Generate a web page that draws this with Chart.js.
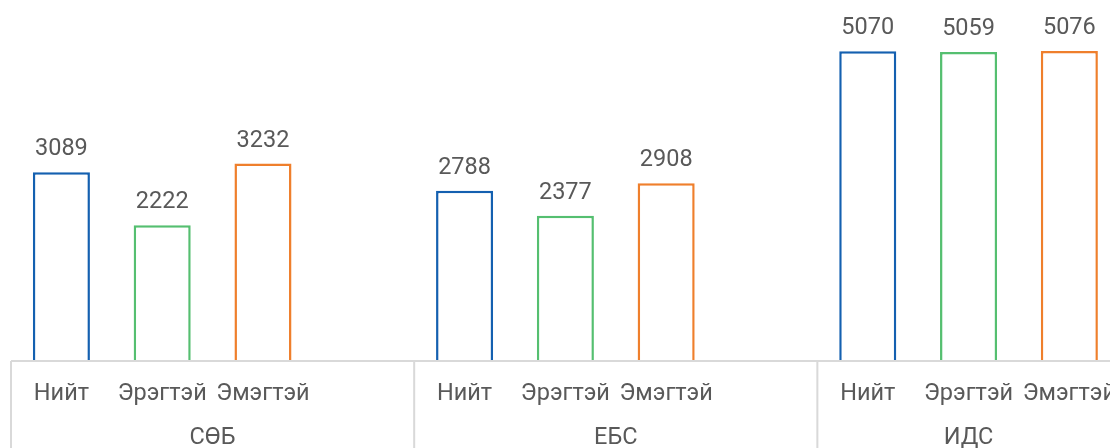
<!DOCTYPE html>
<html>
<head>
<meta charset="utf-8">
<script src="https://cdn.jsdelivr.net/npm/chart.js@4.4.1/dist/chart.umd.min.js"></script>
<style>
  html, body { margin: 0; padding: 0; background: #fff; overflow: hidden; }
  #wrap { width: 1110px; height: 448px; overflow: hidden; position: relative; }
  #chart { position: absolute; left: 0; top: 0; }
</style>
</head>
<body>
<div id="wrap"><canvas id="chart" width="1127" height="448"></canvas></div>
<script>
// groups on the outer axis, series on the inner one
const groups = ['СӨБ', 'ЕБС', 'ИДС'];
const series = ['Нийт', 'Эрэгтэй', 'Эмэгтэй'];
const totalValues  = [3089, 2788, 5070];
const maleValues   = [2222, 2377, 5059];
const femaleValues = [3232, 2908, 5076];
const seriesColors = ['#1460b0', '#55bf70', '#ef7f2c'];

const TEXT = '#595959';
const AXIS = '#d9d9d9';
const FONT = 'Roboto, "Noto Sans", sans-serif';

// each group gets series slots plus an empty gap slot (not after the last one)
const slotLabels = [];
const slotValues = [];
const slotColors = [];
const groupRanges = [];
const seriesValues = [totalValues, maleValues, femaleValues];
groups.forEach((g, gi) => {
    const start = slotLabels.length;
    series.forEach((s, si) => {
        slotLabels.push(s);
        slotValues.push(seriesValues[si][gi]);
        slotColors.push(seriesColors[si]);
    });
    if (gi < groups.length - 1) {
        slotLabels.push('');
        slotValues.push(null);
        slotColors.push('transparent');
    }
    groupRanges.push([start, slotLabels.length - 1]);
});

// value labels above bars, axis line, group dividers and group names
const decorPlugin = {
    id: 'decor',
    afterDraw(chart) {
        const { ctx, chartArea } = chart;
        const meta = chart.getDatasetMeta(0);
        ctx.save();
        ctx.fillStyle = TEXT;
        ctx.font = '23.5px ' + FONT;
        ctx.textAlign = 'center';
        ctx.textBaseline = 'bottom';
        meta.data.forEach((bar, i) => {
            const v = slotValues[i];
            if (v == null) return;
            ctx.fillText(String(v), bar.x, bar.y - 11);
        });

        const x = chart.scales.x;
        const half = (x.getPixelForValue(1) - x.getPixelForValue(0)) / 2;
        ctx.strokeStyle = AXIS;
        ctx.lineWidth = 2;
        ctx.beginPath();
        ctx.moveTo(chartArea.left, chartArea.bottom);
        ctx.lineTo(chartArea.right, chartArea.bottom);
        ctx.textBaseline = 'middle';
        groupRanges.forEach(([a, b], gi) => {
            const left = x.getPixelForValue(a) - half;
            const right = x.getPixelForValue(b) + half;
            ctx.moveTo(left, chartArea.bottom);
            ctx.lineTo(left, chart.height);
            ctx.fillText(groups[gi], (left + right) / 2, chartArea.bottom + 77);
        });
        ctx.stroke();
        ctx.restore();
    }
};

new Chart(document.getElementById('chart').getContext('2d'), {
    type: 'bar',
    data: {
        labels: slotLabels,
        datasets: [{
            data: slotValues,
            backgroundColor: '#ffffff',
            borderColor: slotColors,
            borderWidth: 2.5,
            borderSkipped: 'bottom',
            categoryPercentage: 1,
            barPercentage: 0.566
        }]
    },
    options: {
        responsive: false,
        animation: false,
        layout: { padding: { left: 11, right: 0, top: 0, bottom: 0 } },
        plugins: { legend: { display: false }, tooltip: { enabled: false } },
        scales: {
            y: { display: false, min: 0, max: 5910 },
            x: {
                grid: { display: false },
                border: { display: false },
                ticks: { color: TEXT, font: { size: 23.5, family: FONT }, padding: 11, maxRotation: 0, autoSkip: false },
                afterFit: s => { s.height = 87; }
            }
        }
    },
    plugins: [decorPlugin]
});
</script>
</body>
</html>
